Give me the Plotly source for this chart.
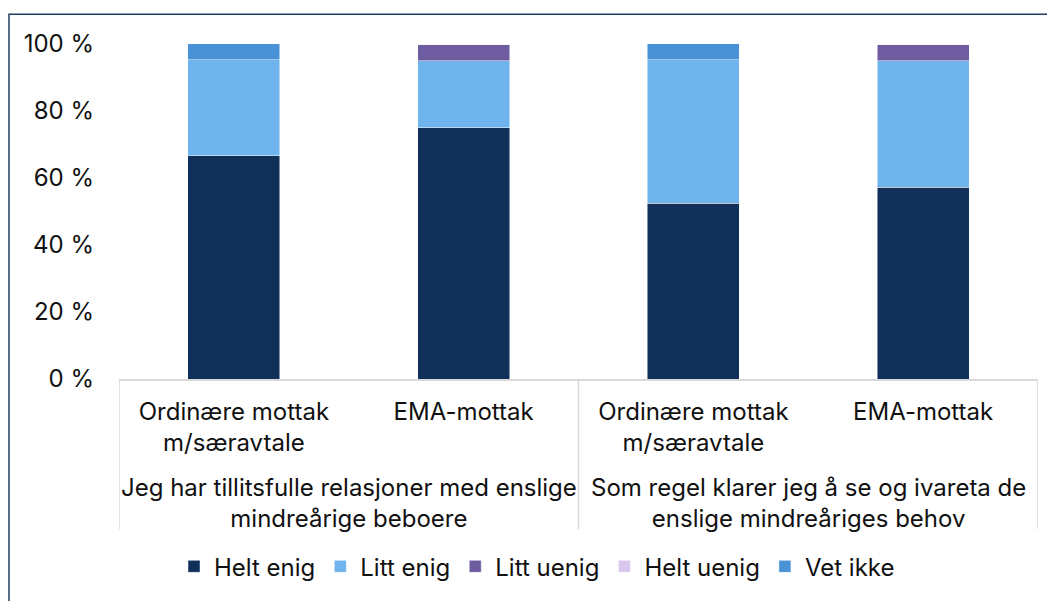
import plotly.graph_objects as go

group_labels = [
    "Jeg har tillitsfulle relasjoner med enslige<br>mindreårige beboere",
    "Som regel klarer jeg å se og ivareta de<br>enslige mindreåriges behov",
]
sub_labels = ["Ordinære mottak<br>m/særavtale", "EMA-mottak"]
# category order: group 1 (sub 1, sub 2), group 2 (sub 1, sub 2)
categories = [sub for _ in group_labels for sub in sub_labels]
n_sub = len(sub_labels)

series_names = ["Helt enig", "Litt enig", "Litt uenig", "Helt uenig", "Vet ikke"]
helt_enig = [66.7, 75.0, 52.4, 57.2]
litt_enig = [28.6, 20.0, 42.9, 37.8]
litt_uenig = [0.0, 5.0, 0.0, 5.0]
helt_uenig = [0.0, 0.0, 0.0, 0.0]
vet_ikke = [4.8, 0.0, 4.8, 0.0]
values = [helt_enig, litt_enig, litt_uenig, helt_uenig, vet_ikke]
colors = ["#10305A", "#70B4EE", "#6E5CA0", "#D9C6EE", "#4A92D6"]

y_ticks = [0, 20, 40, 60, 80, 100]
y_ticktext = [f"{v} %" for v in y_ticks]

xpos = list(range(len(categories)))

fig = go.Figure()
for name, vals, col in zip(series_names, values, colors):
    fig.add_trace(go.Bar(
        x=xpos, y=vals, name=name,
        marker=dict(color=col, line=dict(color="rgba(255,255,255,0.6)", width=0.8)),
    ))

OFF = 8  # page body margin
W, H = 1055 - OFF, 601 - OFF
# target pixel positions in the screenshot
L, R, T, B = 119, 1038, 44, 383
fs = 24
font_fam = "Inter, Noto Sans, sans-serif"
txt_col = "#111111"
div_col = "#D9D9D9"

def px_x(p):
    return (p - L) / (R - L)

def px_y(p):
    return (B - p) / (B - T)

shapes = [dict(type="rect", xref="paper", yref="paper",
               x0=px_x(9), x1=px_x(1100), y0=px_y(660), y1=px_y(14),
               line=dict(color="#1F3D63", width=1.5), layer="below")]
# group dividers at category boundaries
for g in range(len(group_labels) + 1):
    xb = g * n_sub - 0.5
    shapes.append(dict(type="line", xref="x", yref="paper",
                       x0=xb, x1=xb, y0=0, y1=px_y(535),
                       line=dict(color=div_col, width=1.5)))

annotations = []
for g, lab in enumerate(group_labels):
    xc = g * n_sub + (n_sub - 1) / 2
    annotations.append(dict(x=xc, xref="x", y=px_y(476), yref="paper",
                            yanchor="top", xanchor="center", showarrow=False,
                            text=lab, font=dict(size=fs, color=txt_col)))

fig.update_layout(
    width=W, height=H,
    margin=dict(l=L - OFF, r=W - (R - OFF), t=T - OFF, b=H - (B - OFF), pad=0),
    barmode="stack", bargap=0.6,
    plot_bgcolor="white", paper_bgcolor="white",
    font=dict(family=font_fam, size=fs, color=txt_col),
    showlegend=True,
    legend=dict(orientation="h", x=px_x(537), xanchor="center",
                y=px_y(573), yanchor="middle",
                font=dict(size=fs), itemwidth=30, traceorder="normal",
                bgcolor="rgba(0,0,0,0)"),
    shapes=shapes,
    annotations=annotations,
)
fig.update_yaxes(range=[0, 100], tickvals=y_ticks, ticktext=y_ticktext,
                 showgrid=False, zeroline=False, showline=False,
                 ticks="", ticklabelstandoff=24, tickfont=dict(size=fs),
                 automargin=False)
fig.update_xaxes(range=[-0.5, len(categories) - 0.5], tickvals=xpos, ticktext=categories,
                 showline=True, linecolor=div_col, linewidth=1.5,
                 showgrid=False, zeroline=False,
                 ticks="", ticklabelstandoff=10, tickfont=dict(size=fs),
                 automargin=False)

fig.write_html("out.html")
